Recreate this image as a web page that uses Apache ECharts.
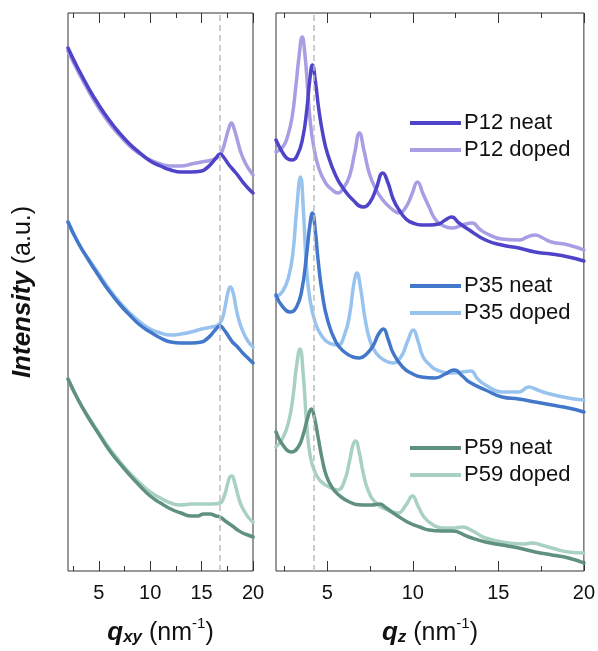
<!DOCTYPE html>
<html><head><meta charset="utf-8">
<script src="https://cdn.jsdelivr.net/npm/echarts@6/dist/echarts.min.js"></script>
<style>html,body{margin:0;padding:0;background:#fff}#c{width:598px;height:651px}</style>
</head><body><div id="c"></div><script>
// ---- data (x in nm^-1, intensity in arbitrary units, offset stacked) ----
const majorTicks = [5, 10, 15, 20];
const minorTicks = [2.5, 7.5, 12.5, 17.5];
const seriesNames = ['P12 neat', 'P12 doped', 'P35 neat', 'P35 doped', 'P59 neat', 'P59 doped'];
const refLineQxy = 16.8;
const refLineQz = 4.2;

// in-plane (q_xy)
const qxyP12neat = [[2,523],[3,502],[4,483],[5,466],[6,451],[7,438],[8,427],[9,418],[10,410],[11,405],[12,401],[13,399],[14,399],[15,400],[15.5,403],[16,408],[16.4,413],[16.8,417],[17.2,413],[17.6,407],[18,402],[18.5,396],[19,389],[19.5,383],[20,378]];
const qxyP12doped = [[2,520],[3,499],[4,480],[5,463],[6,448],[7,436],[8,425],[9,417],[10,411],[11,407],[12,405],[13,405],[14,407],[15,409],[16,411],[16.6,414],[17,420],[17.3,430],[17.6,441],[17.9,448],[18.2,441],[18.5,430],[18.8,419],[19.2,409],[19.6,402],[20,396]];
const qxyP35neat = [[2,349],[3,328],[4,311],[5,295],[6,280],[7,267],[8,256],[9,246],[10,239],[11,233],[12,229],[13,228],[14,228],[15,229],[15.5,232],[16,237],[16.4,242],[16.8,245],[17.2,241],[17.6,235],[18,229],[18.5,224],[19,218],[19.5,213],[20,208]];
const qxyP35doped = [[2,349],[3,328],[4,312],[5,297],[6,282],[7,269],[8,258],[9,249],[10,242],[11,238],[12,236],[13,237],[14,239],[15,242],[16,244],[16.6,246],[17,252],[17.3,265],[17.55,278],[17.8,284],[18.05,279],[18.3,266],[18.6,252],[19,240],[19.5,230],[20,224]];
const qxyP59neat = [[2,192],[3,171],[4,153],[5,137],[6,121],[7,108],[8,96],[9,85],[10,75],[11,68],[12,62],[13,58],[14,55],[14.6,55],[15.2,57],[15.8,57],[16.4,55],[16.8,54],[17.3,50],[18,45],[18.5,41],[19,38],[19.5,36],[20,34]];
const qxyP59doped = [[2,192],[3,171],[4,154],[5,138],[6,123],[7,110],[8,98],[9,88],[10,79],[11,73],[12,68],[13,66],[14,67],[15,67],[16,67],[16.8,68],[17.2,75],[17.5,86],[17.75,94],[17.95,95],[18.2,89],[18.5,77],[18.8,67],[19.2,59],[19.6,53],[20,49]];

// out-of-plane (q_z)
const qzP12neat = [[2,431],[2.4,418],[2.7,412],[2.95,411],[3.25,416],[3.55,432],[3.8,461],[3.98,492],[4.13,506],[4.3,490],[4.5,462],[4.75,436],[5,418],[5.5,395],[6,381],[6.5,371],[7.08,364],[7.5,369],[7.85,382],[8.24,398],[8.55,388],[8.85,372],[9.2,361],[9.6,352],[10,348],[10.5,346],[11,346],[11.5,347],[11.9,351],[12.27,354],[12.7,348],[13.3,341],[14.25,331],[15.2,326],[16.2,323],[17.15,319],[18.1,317],[19.1,314],[20,310]];
const qzP12doped = [[2,419],[2.4,424],[2.7,436],[2.95,455],[3.15,483],[3.35,515],[3.53,534],[3.7,515],[3.85,482],[4,450],[4.2,425],[4.5,403],[4.9,388],[5.3,381],[5.62,378],[5.95,383],[6.3,395],[6.6,418],[6.88,438],[7.15,420],[7.45,398],[7.8,383],[8.2,372],[8.7,363],[9.2,358],[9.6,364],[9.95,377],[10.27,389],[10.6,377],[10.95,364],[11.3,352],[11.8,345],[12.3,343],[12.9,346],[13.47,348],[13.9,342],[14.25,338],[15.2,332],[16.2,331],[16.7,334],[17.16,336],[17.6,333],[18.1,329],[19.1,326],[20,321]];
const qzP35neat = [[2,276],[2.4,264],[2.85,259],[3.2,264],[3.5,280],[3.78,315],[3.98,346],[4.13,358],[4.3,340],[4.46,311],[4.7,278],[5,252],[5.5,229],[6,219],[6.5,214],[6.88,213],[7.3,217],[7.7,226],[8,237],[8.28,242],[8.55,232],[8.85,218],[9.4,204],[10,197],[10.5,194],[11.3,193],[11.9,197],[12.41,201],[12.9,195],[13.3,189],[14.25,181],[15.22,174],[16.19,172],[17.16,169],[18.13,166],[19.1,163],[20,159]];
const qzP35doped = [[2,274],[2.4,280],[2.75,295],[3,320],[3.2,360],[3.43,394],[3.62,355],[3.78,304],[4,270],[4.3,248],[4.6,237],[5.1,228],[5.62,226],[6,236],[6.3,256],[6.55,287],[6.73,298],[6.95,282],[7.2,253],[7.5,230],[7.85,218],[8.3,211],[8.82,208],[9.3,214],[9.7,230],[10.02,241],[10.3,230],[10.6,214],[11,206],[11.4,201],[12.3,198],[12.9,199],[13.38,200],[13.8,192],[14.25,186],[15.2,179],[16.2,179],[16.77,184],[17.3,181],[17.8,178],[19.1,173],[20,171]];
const qzP59neat = [[2,139],[2.4,126],[2.91,119],[3.3,124],[3.6,137],[3.85,153],[4.07,162],[4.25,153],[4.46,134],[4.7,112],[4.95,95],[5.3,83],[5.6,77],[6.3,69],[7.08,66],[7.6,66],[8.05,67],[8.45,63],[8.85,58],[9.3,53],[9.8,48],[10.4,44],[10.95,41],[11.7,40],[12.3,40],[13.28,34],[14.25,29],[15.22,26],[16.19,23],[17.16,19],[18.13,16],[19.1,13],[20,8]];
const qzP59doped = [[2,124],[2.4,133],[2.75,150],[3,175],[3.2,205],[3.4,222],[3.6,195],[3.78,150],[4,115],[4.3,98],[4.6,90],[5.1,84],[5.62,81],[6,90],[6.3,110],[6.5,126],[6.65,130],[6.85,120],[7.1,98],[7.4,80],[7.85,68],[8.5,61],[9.11,58],[9.6,66],[9.98,75],[10.3,65],[10.7,53],[11.2,46],[11.73,43],[12.4,43],[12.9,44],[13.5,40],[14.25,33],[15.6,28],[16.5,27],[16.96,28],[17.5,26],[18.13,23],[19.1,19],[20,18]];

const colors = {
  'P12 neat': '#4F43C9', 'P12 doped': '#A99DE3',
  'P35 neat': '#4377C9', 'P35 doped': '#99C3EF',
  'P59 neat': '#5F917E', 'P59 doped': '#A9D1C2'
};

const FONT = 'Liberation Sans, Arial, Helvetica, sans-serif';
const chart = echarts.init(document.getElementById('c'), null, { renderer: 'canvas' });

function xAxes(gridIndex, titleMain, titleSub) {
  const base = {
    gridIndex, type: 'value', min: 2, max: 20,
    axisLine: { show: false }, splitLine: { show: false }
  };
  const tickStyle = { color: '#333', width: 1 };
  return [
    Object.assign({}, base, {
      position: 'bottom',
      axisTick: { show: true, inside: true, length: 10, customValues: majorTicks, lineStyle: tickStyle },
      axisLabel: { show: true, customValues: majorTicks, fontSize: 20, color: '#111', margin: 12, fontFamily: FONT },
      name: '{b|' + titleMain + '}{s|' + titleSub + '}{r| (nm}{p|-1}{r|)}',
      nameLocation: 'middle', nameGap: 45,
      nameTextStyle: {
        fontFamily: FONT, color: '#111', fontSize: 25,
        rich: {
          b: { fontFamily: FONT, fontSize: 26, fontWeight: 'bold', fontStyle: 'italic', color: '#111', lineHeight: 30, verticalAlign: 'bottom' },
          s: { fontFamily: FONT, fontSize: 17, fontWeight: 'bold', fontStyle: 'italic', color: '#111', lineHeight: 21, verticalAlign: 'bottom' },
          r: { fontFamily: FONT, fontSize: 25, color: '#111', lineHeight: 30, verticalAlign: 'bottom' },
          p: { fontFamily: FONT, fontSize: 15, color: '#111', lineHeight: 16, verticalAlign: 'top' }
        }
      }
    }),
    Object.assign({}, base, {
      position: 'bottom',
      axisTick: { show: true, inside: true, length: 5, customValues: minorTicks, lineStyle: tickStyle },
      axisLabel: { show: false }
    }),
    Object.assign({}, base, {
      position: 'top',
      axisTick: { show: true, inside: true, length: 10, customValues: majorTicks, lineStyle: tickStyle },
      axisLabel: { show: false }
    }),
    Object.assign({}, base, {
      position: 'top',
      axisTick: { show: true, inside: true, length: 5, customValues: minorTicks, lineStyle: tickStyle },
      axisLabel: { show: false }
    })
  ];
}

function lineSeries(name, data, xi, yi) {
  return {
    name, type: 'line', data, xAxisIndex: xi, yAxisIndex: yi,
    showSymbol: false, symbol: 'none', smooth: 0.5,
    lineStyle: { color: colors[name], width: 3.5, cap: 'round', join: 'round' },
    itemStyle: { color: colors[name] },
    emphasis: { disabled: true }, silent: true
  };
}

function refLine(x) {
  return {
    silent: true, symbol: ['none', 'none'], animation: false,
    label: { show: false },
    lineStyle: { color: '#BDBDBD', type: [6, 4], width: 1.5 },
    data: [{ xAxis: x }]
  };
}

const leftSeries = [
  lineSeries('P12 doped', qxyP12doped, 0, 0), lineSeries('P12 neat', qxyP12neat, 0, 0),
  lineSeries('P35 doped', qxyP35doped, 0, 0), lineSeries('P35 neat', qxyP35neat, 0, 0),
  lineSeries('P59 doped', qxyP59doped, 0, 0), lineSeries('P59 neat', qxyP59neat, 0, 0)
];
leftSeries[0].markLine = refLine(refLineQxy);
const rightSeries = [
  lineSeries('P12 doped', qzP12doped, 4, 1), lineSeries('P12 neat', qzP12neat, 4, 1),
  lineSeries('P35 doped', qzP35doped, 4, 1), lineSeries('P35 neat', qzP35neat, 4, 1),
  lineSeries('P59 doped', qzP59doped, 4, 1), lineSeries('P59 neat', qzP59neat, 4, 1)
];
rightSeries[0].markLine = refLine(refLineQz);

function legend(names, top) {
  return {
    data: names, orient: 'vertical', left: 405, top,
    icon: 'rect', itemWidth: 51, itemHeight: 4, itemGap: 5,
    selectedMode: false,
    textStyle: { fontSize: 22, color: '#111', fontFamily: FONT, lineHeight: 22, padding: [0, 0, 0, -2] }
  };
}

chart.setOption({
  animation: false,
  backgroundColor: '#fff',
  grid: [
    { left: 68, top: 13, width: 185, height: 558, show: true, borderColor: '#333', borderWidth: 1, backgroundColor: 'transparent' },
    { left: 276, top: 13, width: 310, height: 558, show: true, borderColor: '#333', borderWidth: 1, backgroundColor: 'transparent' }
  ],
  xAxis: xAxes(0, 'q', 'xy').concat(xAxes(1, 'q', 'z')),
  yAxis: [
    {
      gridIndex: 0, type: 'value', min: 0, max: 558,
      axisLine: { show: false }, axisTick: { show: false }, axisLabel: { show: false }, splitLine: { show: false },
      name: '{b|Intensity} {r|(a.u.)}', nameLocation: 'middle', nameGap: 32,
      nameTextStyle: {
        fontFamily: FONT, fontSize: 25, color: '#111',
        rich: {
          b: { fontFamily: FONT, fontSize: 26, fontWeight: 'bold', fontStyle: 'italic', color: '#111' },
          r: { fontFamily: FONT, fontSize: 25, color: '#111' }
        }
      }
    },
    {
      gridIndex: 1, type: 'value', min: 0, max: 558,
      axisLine: { show: false }, axisTick: { show: false }, axisLabel: { show: false }, splitLine: { show: false }
    }
  ],
  legend: [
    legend(['P12 neat', 'P12 doped'], 107),
    legend(['P35 neat', 'P35 doped'], 270),
    legend(['P59 neat', 'P59 doped'], 432)
  ],
  series: leftSeries.concat(rightSeries)
});
</script></body></html>
